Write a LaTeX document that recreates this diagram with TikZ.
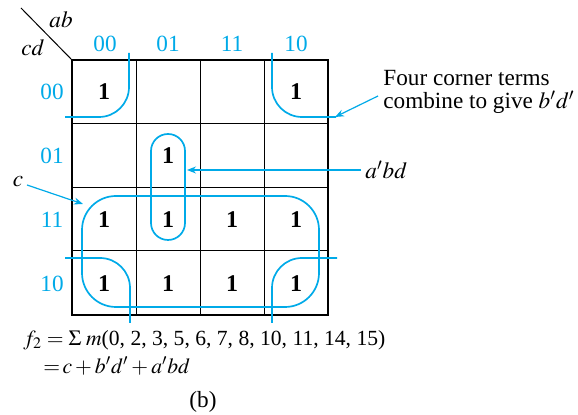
\documentclass[tikz,border=0pt]{standalone}
\usepackage{mathptmx}
\usepackage{fontspec}
\setmainfont{Liberation Serif}
\usetikzlibrary{arrows.meta}
\definecolor{kblue}{RGB}{0,170,232}
\begin{document}
\begin{tikzpicture}[x=0.5pt,y=-0.5pt,
  every node/.style={font=\fontsize{11.6}{11.6}\selectfont, inner sep=0pt},
  lbl/.style={text=kblue},
  one/.style={font=\fontsize{12}{12}\selectfont\bfseries},
  loop/.style={draw=kblue, line width=0.85pt},
  pointer/.style={draw=kblue, line width=0.6pt, -{Stealth[length=4.5pt,width=3.5pt]}},
  inner/.style={line width=0.5pt},
  outer/.style={line width=1pt},
  formula/.style={font=\fontsize{10.8}{10.8}\selectfont}]
\useasboundingbox (0,0) rectangle (578,415);
% grid
\foreach \x in {136,200,264} \draw[inner] (\x,60) -- (\x,315);
\foreach \y in {123.7,187.3,251} \draw[inner] (72,\y) -- (328,\y);
\draw[outer] (72,60) rectangle (328,315);
\draw[inner] (21,8) -- (72,60);
\node (ab) at (61,20) {$ab$};
\node (cd) at (33,48) {$cd$};
% column labels
\node[lbl] (c00) at (105,44) {00};
\node[lbl] (c01) at (168,44) {01};
\node[lbl] (c11) at (232,44) {11};
\node[lbl] (c10) at (296,44) {10};
% row labels
\node[lbl] (r00) at (52,92) {00};
\node[lbl] (r01) at (52,156) {01};
\node[lbl] (r11) at (52,220) {11};
\node[lbl] (r10) at (52,284) {10};
% ones
\node[one] (m0) at (104,92) {1};
\node[one] (m8) at (296,92) {1};
\node[one] (m5) at (168,156) {1};
\node[one] (m3) at (104,220) {1};
\node[one] (m7) at (168,220) {1};
\node[one] (m15) at (232,220) {1};
\node[one] (m11) at (296,220) {1};
\node[one] (m2) at (104,284) {1};
\node[one] (m6) at (168,284) {1};
\node[one] (m14) at (232,284) {1};
\node[one] (m10) at (296,284) {1};
% loops
\draw[loop, rounded corners=15pt] (129,53) |- (65,117);
\draw[loop, rounded corners=15pt] (272,53) |- (336,117);
\draw[loop, rounded corners=15pt] (65,258) -| (130,323);
\draw[loop, rounded corners=15pt] (337,258) -| (272,323);
\draw[loop, rounded corners=17pt] (82,196) rectangle (319,307);
\draw[loop, rounded corners=8.5pt] (151,134) rectangle (185,240);
% pointers
\coordinate (bdEnd) at (335,117);
\coordinate (abdEnd) at (187,170);
\coordinate (cEnd) at (83,204);
\node[anchor=west, align=left, font=\fontsize{11.6}{11.8}\selectfont] (four) at (383,92) {Four corner terms\\combine to give $b'd'$};
\node[anchor=west] (abd) at (365,170) {$a'bd$};
\node (c) at (18,182) {$c$};
\draw[pointer] (378,96) -- (bdEnd);
\draw[pointer] (abd.west) ++(-4,0) -- (abdEnd);
\draw[pointer] (27,185) -- (cEnd);
% formula
\node[formula, anchor=west] (f1) at (23,340) {$f_2 = \Sigma\; m$(0, 2, 3, 5, 6, 7, 8, 10, 11, 14, 15)};
\node[formula, anchor=west] (f2) at (43,366) {$=\!c + b'd' + a'bd$};
\node (b) at (203,402) {(b)};
\end{tikzpicture}
\end{document}
